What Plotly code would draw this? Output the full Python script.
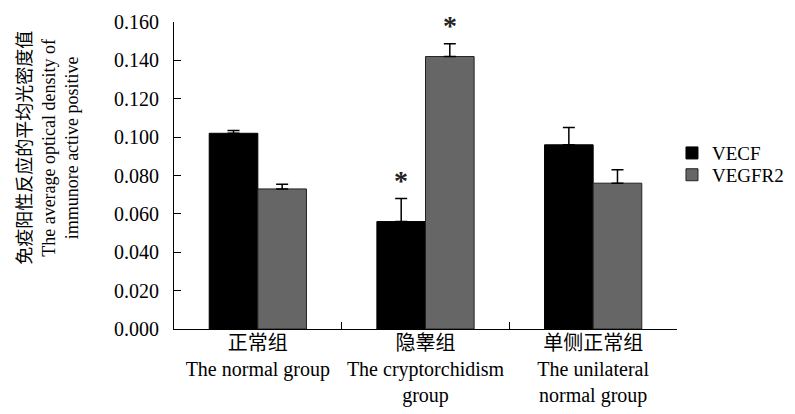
import plotly.graph_objects as go

categories = ["正常组<br>The normal group",
              "隐睾组<br>The cryptorchidism<br>group",
              "单侧正常组<br>The unilateral<br>normal group"]
vecf = [0.102, 0.056, 0.096]
vecf_err = [0.0015, 0.012, 0.009]
vegfr2 = [0.073, 0.142, 0.076]
vegfr2_err = [0.0025, 0.0066, 0.007]
sig_vecf = ["", "*", ""]
sig_vegfr2 = ["", "*", ""]
yticks = [0.0, 0.02, 0.04, 0.06, 0.08, 0.10, 0.12, 0.14, 0.16]

FONT = "Liberation Serif, Times New Roman, Noto Sans CJK SC, serif"
bargap = 0.42

fig = go.Figure()
fig.add_trace(go.Bar(
    x=categories, y=vecf, name="VECF", legend="legend",
    marker=dict(color="#000000", line=dict(color="#000000", width=1)),
    error_y=dict(type="data", symmetric=False, array=vecf_err,
                 arrayminus=[0] * len(vecf), color="#000000", thickness=1.5, width=6),
))
fig.add_trace(go.Bar(
    x=categories, y=vegfr2, name="VEGFR2", legend="legend2",
    marker=dict(color="#666666", line=dict(color="#222222", width=1)),
    error_y=dict(type="data", symmetric=False, array=vegfr2_err,
                 arrayminus=[0] * len(vegfr2), color="#000000", thickness=1.5, width=6),
))

off = (1 - bargap) / 4
for i, (s, v, e) in enumerate(zip(sig_vecf, vecf, vecf_err)):
    if s:
        fig.add_annotation(x=i - off, y=v + e, xref="x", yref="y", text="<b>" + s + "</b>",
                           showarrow=False, yanchor="bottom", yshift=1,
                           font=dict(family=FONT, size=28, color="#222222"))
for i, (s, v, e) in enumerate(zip(sig_vegfr2, vegfr2, vegfr2_err)):
    if s:
        fig.add_annotation(x=i + off, y=v + e, xref="x", yref="y", text="<b>" + s + "</b>",
                           showarrow=False, yanchor="bottom", yshift=1,
                           font=dict(family=FONT, size=28, color="#222222"))

fig.add_annotation(
    text="免疫阳性反应的平均光密度值<br>The average optical density of<br>immunore active positive",
    xref="paper", yref="paper", x=0, y=0.59, xshift=-125, xanchor="center", yanchor="middle",
    textangle=-90, showarrow=False, font=dict(family=FONT, size=18, color="#000000"))

fig.update_layout(
    width=795, height=414,
    margin=dict(l=166, r=126, t=14, b=93, autoexpand=False),
    paper_bgcolor="white", plot_bgcolor="white",
    bargap=bargap, bargroupgap=0, barmode="group",
    font=dict(family=FONT, size=20, color="#000000"),
    showlegend=True,
    legend=dict(x=0.99, y=0.573, xanchor="left", yanchor="middle",
                font=dict(family=FONT, size=19), bgcolor="rgba(0,0,0,0)"),
    legend2=dict(x=0.99, y=0.502, xanchor="left", yanchor="middle",
                 font=dict(family=FONT, size=19), bgcolor="rgba(0,0,0,0)"),
)
fig.update_yaxes(range=[0, 0.16], tickvals=yticks, tickformat=".3f",
                 ticks="inside", ticklen=7, tickcolor="#000000",
                 showline=True, linecolor="#000000", linewidth=1,
                 showgrid=False, zeroline=False, ticklabelstandoff=10,
                 automargin=False, tickfont=dict(family=FONT, size=20))
fig.update_xaxes(ticks="inside", tickson="boundaries", ticklen=7, tickcolor="#000000",
                 showline=True, linecolor="#000000", linewidth=1,
                 showgrid=False, ticklabelstandoff=-4, tickangle=0,
                 automargin=False, tickfont=dict(family=FONT, size=20))

fig.write_html("out.html")
